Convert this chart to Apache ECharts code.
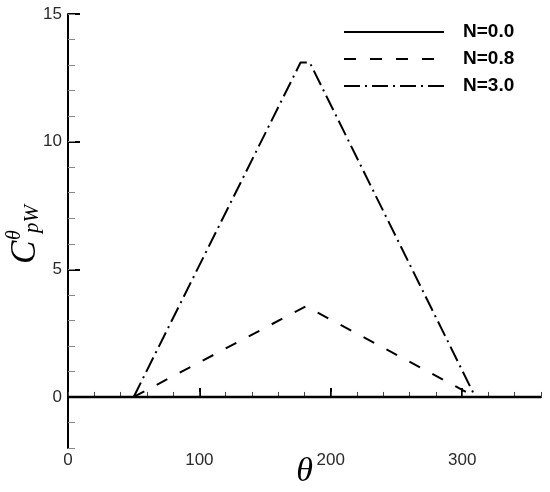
<!DOCTYPE html>
<html>
<head>
<meta charset="utf-8">
<script src="https://cdn.jsdelivr.net/npm/echarts@6/dist/echarts.min.js"></script>
<style>
    html, body { margin: 0; padding: 0; background: #fff; }
    #chart { width: 550px; height: 492px; }
</style>
</head>
<body>
<div id="chart"></div>
<script>
// data
const seriesNames = ['N=0.0', 'N=0.8', 'N=3.0'];
const thetaN00 = [0, 360];
const cpN00 = [0, 0];
const thetaN08 = [50, 181, 310];
const cpN08 = [0, 3.55, 0];
const thetaN30 = [50, 177, 184, 310];
const cpN30 = [0, 13.1, 13.1, 0];

const xMajorTicks = [0, 100, 200, 300];
const yMajorTicks = [0, 5, 10, 15];

const toPairs = (xs, ys) => xs.map((x, i) => [x, ys[i]]);

const chart = echarts.init(document.getElementById('chart'));

const axisFont = {
    color: '#2a2a2a',
    fontFamily: 'Liberation Sans, Arial, sans-serif',
    fontSize: 17
};

// rotated y title: C with superscript θ and subscript pW
const titleFont = size => 'italic ' + size + 'px "Liberation Serif", "Times New Roman", serif';

chart.setOption({
    animation: false,
    backgroundColor: '#fff',
    grid: {
        left: 68,
        right: 9,
        top: 14,
        bottom: 44,
        containLabel: false,
        outerBoundsMode: 'none'
    },
    legend: {
        data: seriesNames,
        orient: 'vertical',
        left: 343,
        top: 22,
        padding: 0,
        itemWidth: 100,
        itemHeight: 14,
        itemGap: 7,
        itemStyle: { opacity: 0 },
        textStyle: {
            color: '#000',
            fontFamily: 'Liberation Sans, Arial, sans-serif',
            fontWeight: 'bold',
            fontSize: 19,
            lineHeight: 20,
            padding: [0, 0, 0, 14]
        }
    },
    xAxis: [
        {
            type: 'value',
            min: 0,
            max: 360,
            name: 'θ',
            nameLocation: 'middle',
            nameGap: 7,
            nameMoveOverlap: false,
            nameTextStyle: {
                color: '#000',
                fontFamily: 'Liberation Serif, Times New Roman, serif',
                fontStyle: 'italic',
                fontSize: 34
            },
            axisLine: { lineStyle: { color: '#000', width: 2 } },
            axisTick: {
                inside: true,
                length: 9,
                customValues: xMajorTicks,
                lineStyle: { color: '#000', width: 2 }
            },
            axisLabel: {
                customValues: xMajorTicks,
                margin: 4,
                ...axisFont
            },
            splitLine: { show: false }
        },
        {
            type: 'value',
            min: 0,
            max: 360,
            interval: 20,
            position: 'bottom',
            axisLine: { show: false },
            axisTick: {
                inside: true,
                length: 5,
                lineStyle: { color: '#444', width: 1 }
            },
            axisLabel: { show: false },
            splitLine: { show: false }
        }
    ],
    yAxis: [
        {
            type: 'value',
            min: -2,
            max: 15,
            axisLine: { lineStyle: { color: '#000', width: 2 } },
            axisTick: {
                inside: true,
                length: 12,
                customValues: yMajorTicks,
                lineStyle: { color: '#000', width: 2 }
            },
            axisLabel: {
                customValues: yMajorTicks,
                margin: 6,
                ...axisFont
            },
            splitLine: { show: false }
        },
        {
            type: 'value',
            min: -2,
            max: 15,
            interval: 1,
            position: 'left',
            axisLine: { show: false },
            axisTick: {
                inside: true,
                length: 7,
                lineStyle: { color: '#888', width: 1 }
            },
            axisLabel: { show: false },
            splitLine: { show: false }
        }
    ],
    graphic: [
        {
            type: 'group',
            x: 35,
            y: 264,
            rotation: Math.PI / 2,
            children: [
                {
                    type: 'text',
                    x: 0,
                    y: 8,
                    style: {
                        text: 'C',
                        fill: '#000',
                        font: titleFont(35),
                        textVerticalAlign: 'bottom'
                    }
                },
                {
                    type: 'text',
                    x: 24,
                    y: -10,
                    style: {
                        text: 'θ',
                        fill: '#000',
                        font: titleFont(20),
                        textVerticalAlign: 'bottom'
                    }
                },
                {
                    type: 'text',
                    x: 31,
                    y: 8,
                    style: {
                        text: 'pW',
                        fill: '#000',
                        font: titleFont(21),
                        textVerticalAlign: 'bottom'
                    }
                }
            ]
        }
    ],
    series: [
        {
            name: seriesNames[0],
            type: 'line',
            symbol: 'none',
            color: '#000',
            lineStyle: { color: '#000', width: 2.5, type: 'solid' },
            data: toPairs(thetaN00, cpN00)
        },
        {
            name: seriesNames[1],
            type: 'line',
            symbol: 'none',
            color: '#000',
            lineStyle: { color: '#000', width: 2, type: [12, 14] },
            data: toPairs(thetaN08, cpN08)
        },
        {
            name: seriesNames[2],
            type: 'line',
            symbol: 'none',
            color: '#000',
            lineStyle: { color: '#000', width: 2, type: [16, 5, 2, 5] },
            data: toPairs(thetaN30, cpN30)
        }
    ]
});
</script>
</body>
</html>
